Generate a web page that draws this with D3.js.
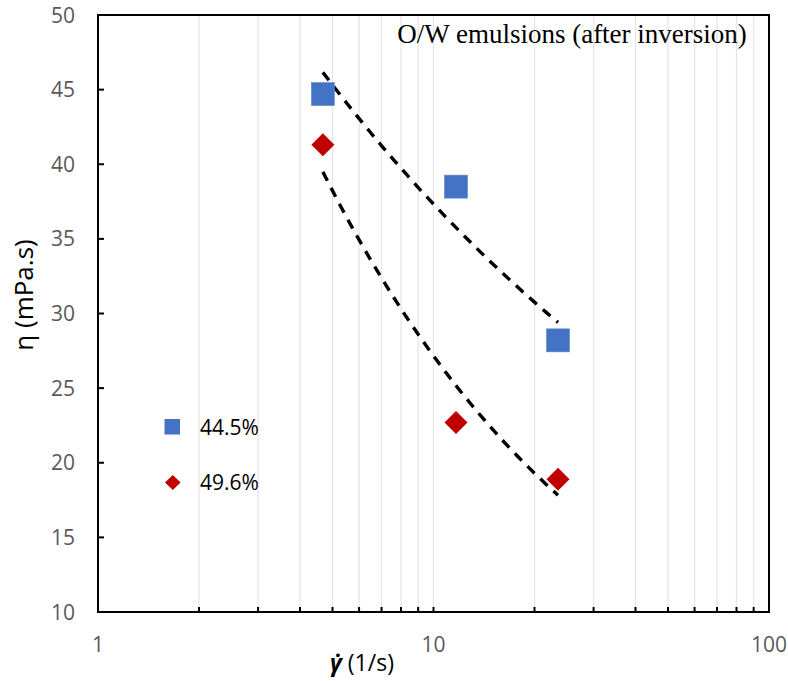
<!DOCTYPE html>
<html><head><meta charset="utf-8">
<script src="https://cdn.jsdelivr.net/npm/d3@7"></script>
<style>body{margin:0;background:#fff}svg{display:block}</style>
</head><body>
<script>
const shearRates = [4.68, 11.67, 23.5];
const eta445 = [44.7, 38.5, 28.2];
const eta496 = [41.3, 22.7, 18.9];
const seriesNames = ["44.5%", "49.6%"];
const yTicks = [10, 15, 20, 25, 30, 35, 40, 45, 50];
const xTickLabels = [1, 10, 100];
const title = "O/W emulsions (after inversion)";

const W = 788, H = 681;
const m = {l: 98, r: 769, t: 15, b: 612};
const svg = d3.select("body").append("svg").attr("width", W).attr("height", H);
const x = d3.scaleLog().domain([1, 100]).range([m.l, m.r]);
const y = d3.scaleLinear().domain([10, 50]).range([m.b, m.t]);

// minor grid
const minor = [];
for (let d = 1; d <= 10; d *= 10) for (let k = 2; k <= 10; k++) minor.push(k * d);
svg.append("g").selectAll("line").data(minor.filter(v => v < 100)).join("line")
  .attr("x1", d => x(d)).attr("x2", d => x(d)).attr("y1", m.t).attr("y2", m.b)
  .attr("stroke", "#e6e6e6").attr("stroke-width", 1.3);

// axes frame
svg.append("rect").attr("x", m.l).attr("y", m.t).attr("width", m.r - m.l).attr("height", m.b - m.t)
  .attr("fill", "none").attr("stroke", "#000").attr("stroke-width", 2);

// x ticks (inside)
svg.append("g").selectAll("line").data(minor.filter(v => v < 100)).join("line")
  .attr("x1", d => x(d)).attr("x2", d => x(d)).attr("y1", m.b).attr("y2", m.b - 5)
  .attr("stroke", "#000").attr("stroke-width", 2);
// y ticks (inside)
svg.append("g").selectAll("line").data(yTicks).join("line")
  .attr("x1", m.l).attr("x2", m.l + 6).attr("y1", d => y(d)).attr("y2", d => y(d))
  .attr("stroke", "#000").attr("stroke-width", 2);

const tickFont = "'Open Sans', 'Noto Sans', sans-serif";
svg.append("g").selectAll("text").data(yTicks).join("text")
  .attr("x", 75).attr("y", d => y(d)).attr("dy", "0.36em").attr("text-anchor", "end")
  .attr("font-family", tickFont).attr("font-size", 21).attr("fill", "#595959").text(d => d);
svg.append("g").selectAll("text").data(xTickLabels).join("text")
  .attr("x", d => x(d)).attr("y", 652).attr("text-anchor", "middle")
  .attr("font-family", tickFont).attr("font-size", 21).attr("fill", "#595959").text(d => d);

// axis titles
svg.append("text").attr("transform", `translate(33,295) rotate(-90)`)
  .attr("text-anchor", "middle").attr("font-family", tickFont).attr("font-size", 26).attr("fill", "#000")
  .text("η (mPa.s)");
const xt = svg.append("text").attr("x", 362).attr("y", 671).attr("text-anchor", "middle")
  .attr("font-family", tickFont).attr("font-size", 23).attr("fill", "#000");
xt.append("tspan").attr("font-weight", "bold").attr("font-style", "italic").text("γ̇");
xt.append("tspan").text(" (1/s)");

// annotation
svg.append("text").attr("x", 572).attr("y", 43).attr("text-anchor", "middle")
  .attr("font-family", "'Liberation Serif', 'Times New Roman', serif").attr("font-size", 27).attr("fill", "#000")
  .text(title);

// power-law trendlines (least squares in log-log)
function powerFit(xs, ys) {
  const lx = xs.map(Math.log), ly = ys.map(Math.log);
  const mx = d3.mean(lx), my = d3.mean(ly);
  const b = d3.sum(lx.map((v, i) => (v - mx) * (ly[i] - my))) / d3.sum(lx.map(v => (v - mx) ** 2));
  const a = Math.exp(my - b * mx);
  return v => a * Math.pow(v, b);
}
const line = d3.line().x(d => x(d[0])).y(d => y(d[1]));
[eta445, eta496].forEach(ys => {
  const f = powerFit(shearRates, ys);
  const [lo, hi] = d3.extent(shearRates);
  const pts = d3.range(0, 41).map(i => { const v = lo * Math.pow(hi / lo, i / 40); return [v, f(v)]; });
  svg.append("path").attr("d", line(pts)).attr("fill", "none").attr("stroke", "#000")
    .attr("stroke-width", 3.4).attr("stroke-dasharray", "10,8");
});

// markers
const blue = "#4472C4", red = "#C00000";
svg.append("g").selectAll("rect").data(shearRates.map((v, i) => [v, eta445[i]])).join("rect")
  .attr("x", d => x(d[0]) - 11.5).attr("y", d => y(d[1]) - 11.5).attr("width", 23).attr("height", 23)
  .attr("fill", blue).attr("stroke", "#5b86d0").attr("stroke-width", 0.6);
svg.append("g").selectAll("path").data(shearRates.map((v, i) => [v, eta496[i]])).join("path")
  .attr("d", d => { const cx = x(d[0]), cy = y(d[1]), r = 11.5; return `M${cx},${cy - r}L${cx + r},${cy}L${cx},${cy + r}L${cx - r},${cy}Z`; })
  .attr("fill", red);

// legend
svg.append("rect").attr("x", 164.5).attr("y", 419).attr("width", 15.5).attr("height", 15.5).attr("fill", blue);
svg.append("path").attr("d", "M172.8,475L180.6,482.5L172.8,490L165,482.5Z").attr("fill", red);
svg.append("text").attr("x", 200).attr("y", 427).attr("dy", "0.36em").attr("font-family", tickFont)
  .attr("font-size", 21).attr("fill", "#000").text(seriesNames[0]);
svg.append("text").attr("x", 200).attr("y", 482).attr("dy", "0.36em").attr("font-family", tickFont)
  .attr("font-size", 21).attr("fill", "#000").text(seriesNames[1]);
</script>
</body></html>
